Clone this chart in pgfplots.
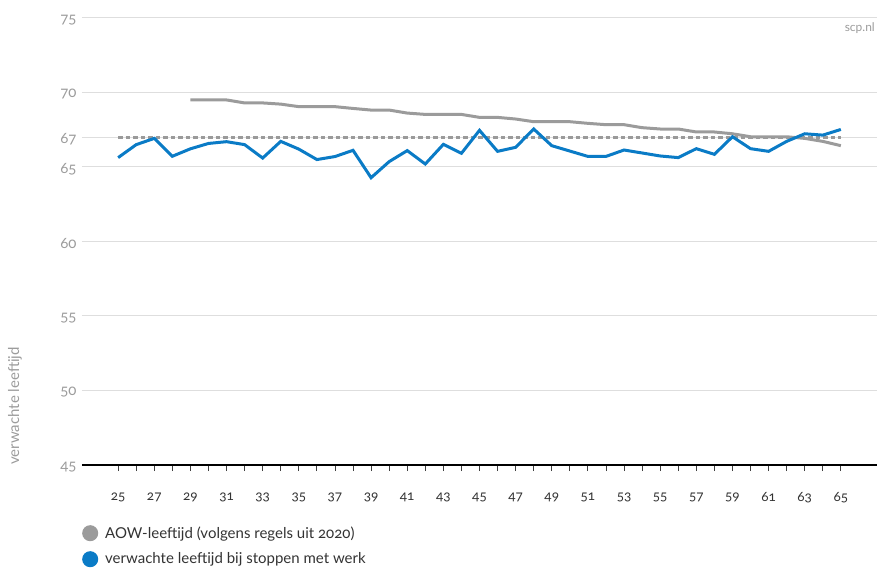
\documentclass[border=0pt]{standalone}
\usepackage{fontspec}
\setmainfont{Lato}[Numbers=OldStyle]
\usepackage{pgfplots}
\usepackage{pgfplotstable}
\pgfplotsset{compat=1.18}
\definecolor{scpblue}{HTML}{0A7BC6}
\definecolor{aowgray}{HTML}{9B9B9B}
\definecolor{dashgray}{HTML}{9A9A9A}
\definecolor{gridgray}{HTML}{DEDEDE}
\definecolor{labgray}{HTML}{9C9C9C}
\definecolor{txtdark}{HTML}{333333}

\pgfplotstableread{
age val
25 65.63
26 66.50
27 66.92
28 65.72
29 66.22
30 66.58
31 66.70
32 66.50
33 65.60
34 66.72
35 66.20
36 65.50
37 65.70
38 66.12
39 64.28
40 65.36
41 66.10
42 65.20
43 66.52
44 65.92
45 67.46
46 66.05
47 66.32
48 67.55
49 66.43
50 66.07
51 65.71
52 65.71
53 66.14
54 65.94
55 65.74
56 65.63
57 66.23
58 65.85
59 67.03
60 66.23
61 66.05
62 66.72
63 67.23
64 67.14
65 67.52
}\stoppen

\pgfplotstableread{
age val
29 69.50
30 69.50
31 69.50
32 69.30
33 69.30
34 69.22
35 69.05
36 69.05
37 69.05
38 68.93
39 68.82
40 68.82
41 68.62
42 68.53
43 68.53
44 68.53
45 68.33
46 68.33
47 68.22
48 68.04
49 68.04
50 68.04
51 67.93
52 67.84
53 67.84
54 67.64
55 67.55
56 67.55
57 67.35
58 67.35
59 67.23
60 67.03
61 67.03
62 67.03
63 66.92
64 66.72
65 66.43
}\aow

\begin{document}
\begin{tikzpicture}
\useasboundingbox (-82pt,-102pt) rectangle (795pt,465pt);
\begin{axis}[
  at={(0pt,0pt)}, anchor=south west,
  width=795pt, height=447pt, scale only axis,
  xmin=23, xmax=67, ymin=45, ymax=75,
  clip=false,
  separate axis lines,
  axis x line*=bottom,
  x axis line style={black, line width=2.4pt, -},
  y axis line style={draw=none},
  ytick={45,50,55,60,65,67,70,75},
  ytick style={draw=none},
  ymajorgrids,
  grid style={draw=gridgray, line width=1pt},
  xtick={25,27,...,65},
  minor xtick={26,28,...,64},
  xtick align=outside,
  major tick length=6pt, minor tick length=6pt,
  xtick style={draw=black!75, line width=0.9pt},
  /pgf/number format/assume math mode=true,
  yticklabel style={font=\fontsize{15}{18}\selectfont, text=labgray, xshift=-2pt, yshift=-2pt},
  xticklabel style={font=\fontsize{13.5}{16}\selectfont, text=txtdark, yshift=-18pt},
  legend image code/.code={\fill[#1] (0pt,0pt) circle (6.5pt);},
  legend style={at={(axis description cs:0,0)}, anchor=north west, xshift=0pt, yshift=-60pt,
    draw=none, fill=none, inner sep=0pt, row sep=10pt,
    font=\fontsize{15}{18}\selectfont, text=txtdark,
    nodes={inner sep=0pt}, /tikz/every odd column/.style={column sep=7pt}},
  legend cell align=left,
]
\addplot[dashgray, line width=3pt, dash pattern=on 4.5pt off 3pt, forget plot] coordinates {(25,67) (65,67)};
\addplot[aowgray, line width=3pt] table[x=age, y=val] {\aow};
\addlegendentry{AOW-leeftijd (volgens regels uit 2020)}
\addplot[scpblue, line width=3pt] table[x=age, y=val] {\stoppen};
\addlegendentry{verwachte leeftijd bij stoppen met werk}
\node[rotate=90, anchor=west, inner sep=0pt, text=labgray, font=\fontsize{15}{18}\selectfont] at ([xshift=-67pt]rel axis cs:0,0) {verwachte leeftijd};
\node[anchor=east, inner sep=0pt, text=labgray, font=\fontsize{12}{14}\selectfont] at ([xshift=-2pt, yshift=-10pt]rel axis cs:1,1) {scp.nl};
\end{axis}
\end{tikzpicture}
\end{document}
